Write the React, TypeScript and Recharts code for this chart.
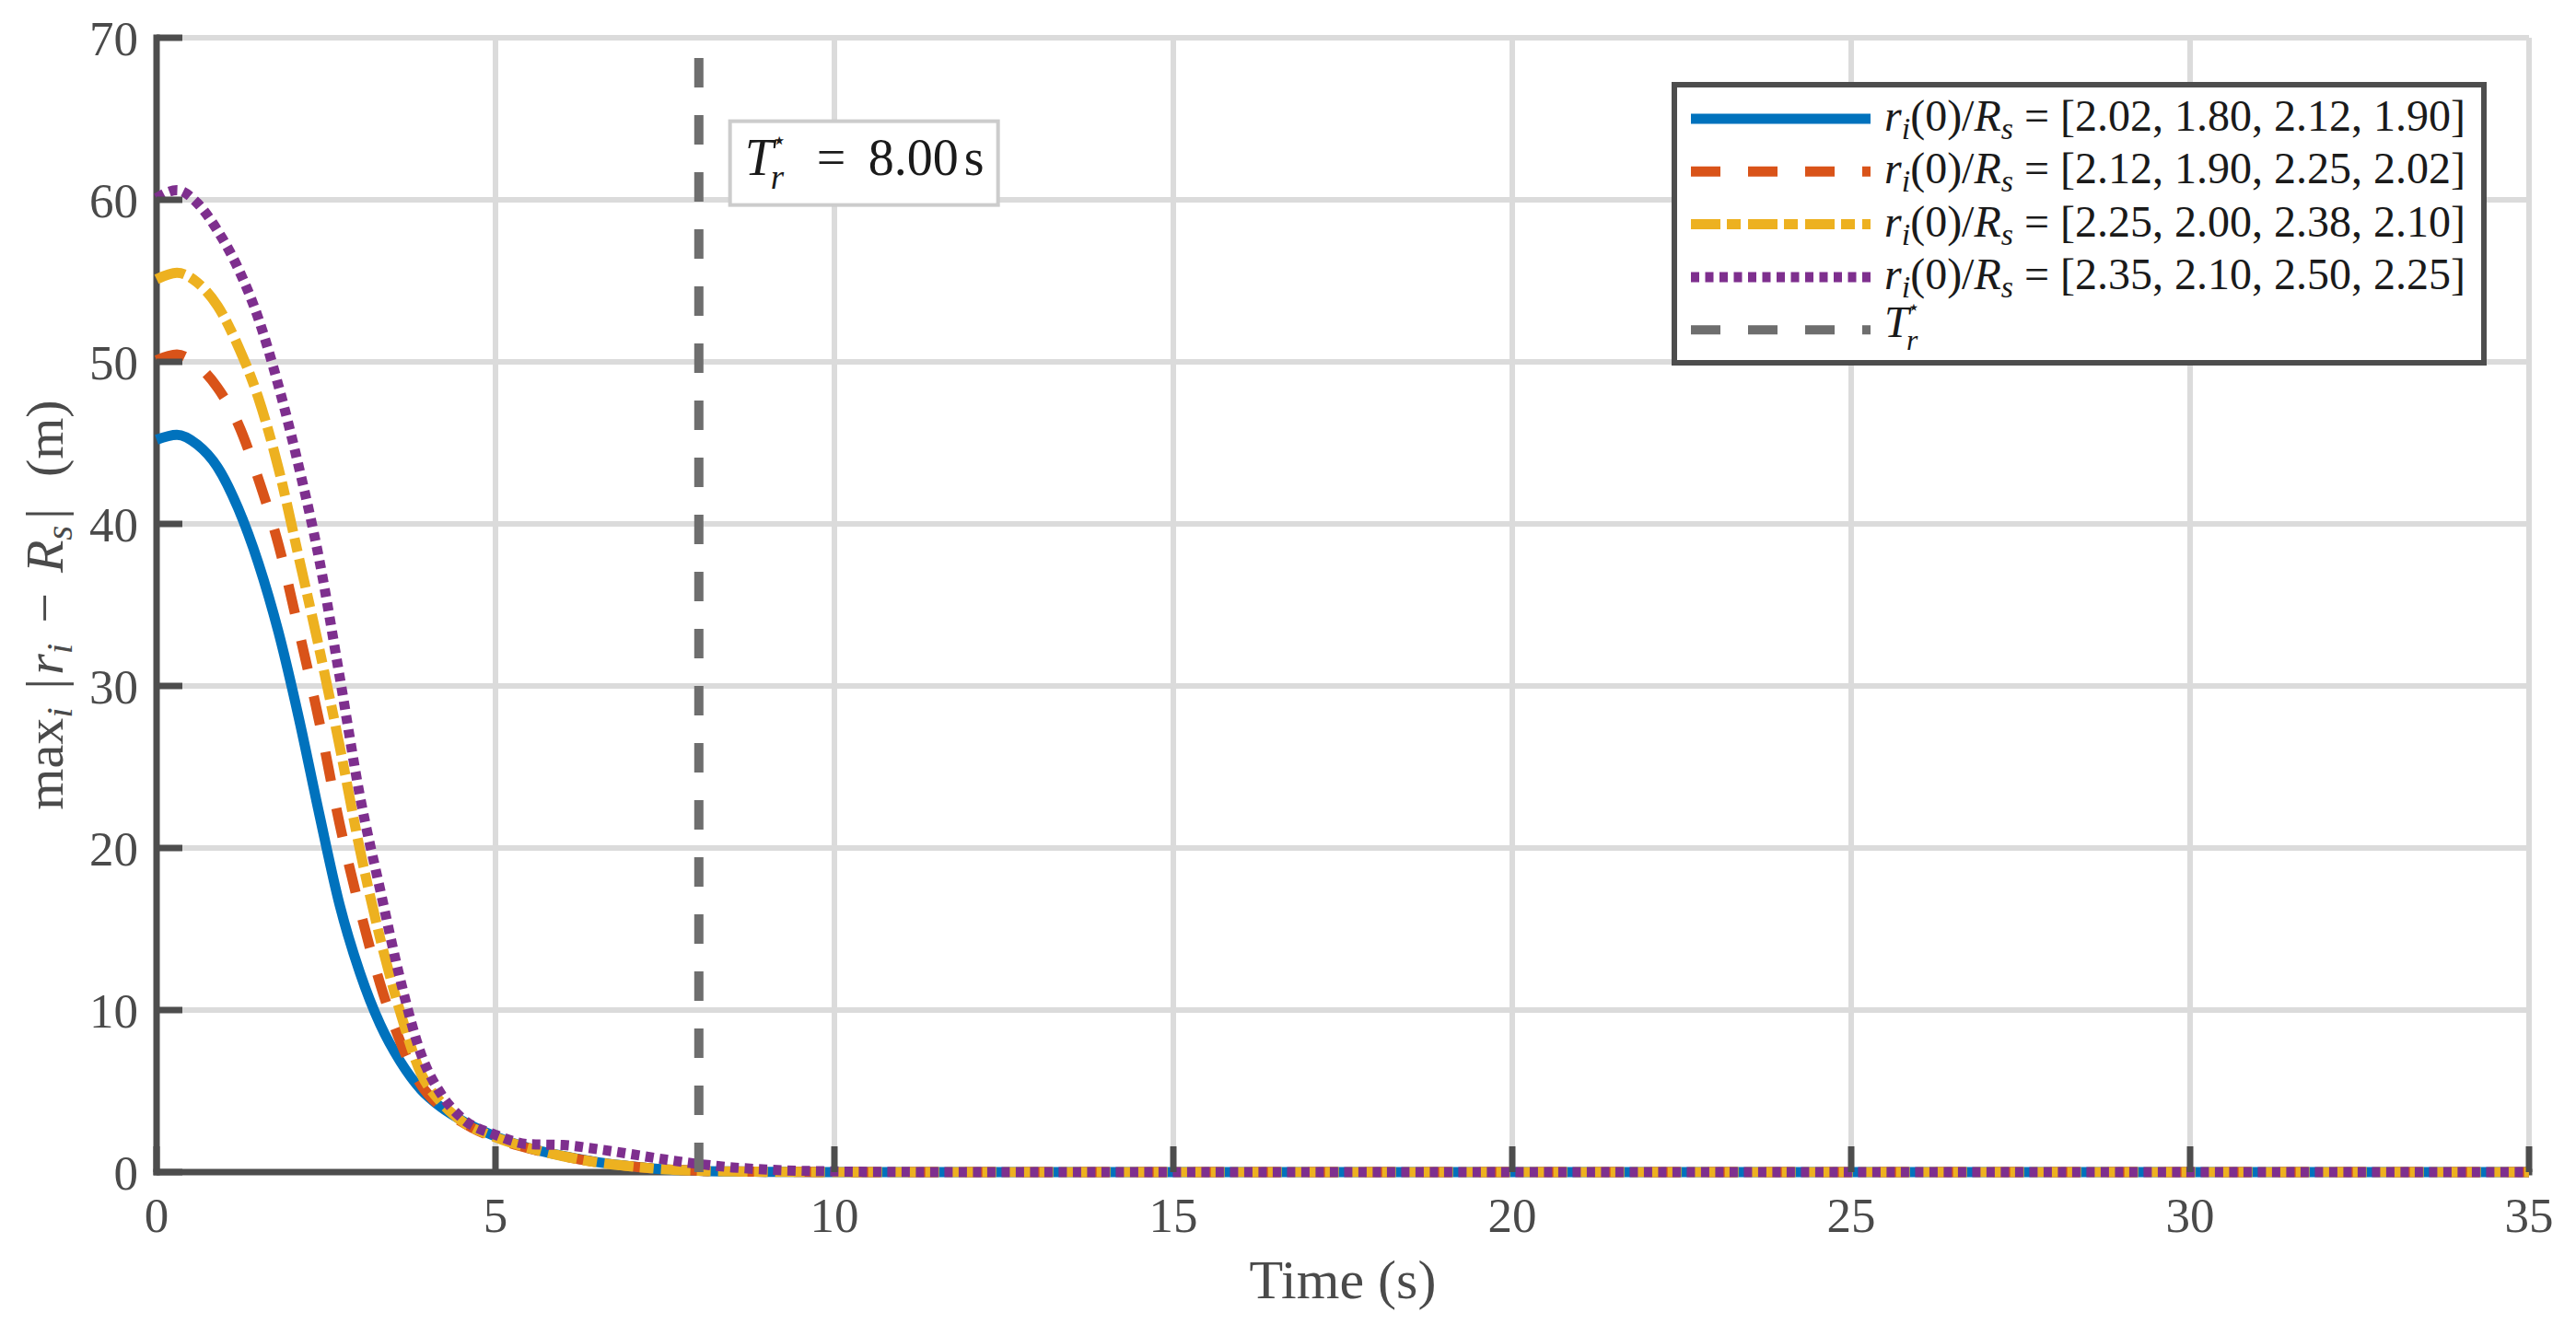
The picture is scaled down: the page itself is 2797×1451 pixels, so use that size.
import React from 'react';
import { LineChart, Line, XAxis, YAxis, CartesianGrid, Legend, ReferenceDot } from 'recharts';

// time samples (s) and the four max-error curves
const TIME = [0, 0.3, 0.6, 0.9, 1.2, 1.5, 1.8, 2.1, 2.4, 2.7, 3.0, 3.3, 3.6, 3.9, 4.2, 4.5, 5.0, 5.5, 6.0, 6.5, 7.0, 7.5, 8.0, 8.5, 9.0, 9.5, 10, 11, 12, 15, 20, 25, 30, 35];
const CASE_1 = [45.2, 45.5, 44.9, 43.5, 41.0, 37.6, 33.3, 28.0, 22.1, 16.5, 12.3, 9.1, 6.8, 5.1, 4.0, 3.2, 2.2, 1.48, 1.0, 0.62, 0.36, 0.17, 0.08, 0.04, 0.02, 0.01, 0, 0, 0, 0, 0, 0, 0, 0];
const CASE_2 = [50.1, 50.45, 49.8, 48.4, 46.2, 42.8, 38.7, 33.4, 27.8, 21.5, 16.2, 11.6, 8.0, 5.4, 4.0, 3.1, 2.1, 1.45, 0.98, 0.6, 0.35, 0.17, 0.08, 0.04, 0.02, 0.01, 0, 0, 0, 0, 0, 0, 0, 0];
const CASE_3 = [55.1, 55.5, 54.9, 53.45, 51.0, 47.8, 43.4, 37.9, 32.3, 26.3, 19.9, 14.4, 9.8, 6.1, 4.3, 3.15, 2.15, 1.48, 0.98, 0.6, 0.35, 0.17, 0.08, 0.04, 0.02, 0.01, 0, 0, 0, 0, 0, 0, 0, 0];
const CASE_4 = [60.1, 60.6, 59.8, 58.1, 55.8, 52.7, 48.5, 43.5, 37.8, 30.6, 23.2, 17.4, 11.8, 7.3, 4.8, 3.35, 2.3, 1.72, 1.67, 1.42, 1.11, 0.78, 0.5, 0.29, 0.16, 0.08, 0.04, 0.01, 0, 0, 0, 0, 0, 0];

const CASE_LABELS = [
  '2.02, 1.80, 2.12, 1.90',
  '2.12, 1.90, 2.25, 2.02',
  '2.25, 2.00, 2.38, 2.10',
  '2.35, 2.10, 2.50, 2.25',
];

const T_STAR = 8;
const X_TICKS = [0, 5, 10, 15, 20, 25, 30, 35];
const Y_TICKS = [0, 10, 20, 30, 40, 50, 60, 70];

const data = TIME.map((t, i) => ({ t, s1: CASE_1[i], s2: CASE_2[i], s3: CASE_3[i], s4: CASE_4[i] }));
const tStarData = [{ t: T_STAR, tr: 0 }, { t: T_STAR, tr: 70 }];

const SERIF = "'Liberation Serif', 'Times New Roman', serif";
const AXIS = '#4d4d4d';
const GRID = '#dbdbdb';
const TEXT = '#4a4a4a';
const INK = '#1a1a1a';

const STYLES: Record<string, { color: string; dash?: string; width: number }> = {
  s1: { color: '#0072BD', width: 11 },
  s2: { color: '#D95319', dash: '32 30', width: 11 },
  s3: { color: '#EDB120', dash: '32 7 15 8', width: 11 },
  s4: { color: '#7E2F8E', dash: '9 6.5', width: 11 },
  tr: { color: '#6e6e6e', dash: '32 30', width: 10 },
};

const BottomTick = ({ x, y, payload }: any) => (
  <g>
    <line x1={x} x2={x} y1={y} y2={y - 28} stroke={AXIS} strokeWidth={7} />
    <text x={x} y={y + 65} textAnchor="middle" fontSize={53} fontFamily={SERIF} fill={TEXT}>
      {payload.value}
    </text>
  </g>
);

const TopTick = ({ x, y }: any) => <line x1={x} x2={x} y1={y} y2={y + 28} stroke={AXIS} strokeWidth={7} />;

const LeftTick = ({ x, y, payload }: any) => (
  <g>
    <line x1={x} x2={x + 28} y1={y} y2={y} stroke={AXIS} strokeWidth={7} />
    <text x={x - 20} y={y} dy="0.35em" textAnchor="end" fontSize={53} fontFamily={SERIF} fill={TEXT}>
      {payload.value}
    </text>
  </g>
);

const RightTick = ({ x, y }: any) => <line x1={x} x2={x - 28} y1={y} y2={y} stroke={AXIS} strokeWidth={7} />;

const XLabel = ({ viewBox }: any) => (
  <text x={viewBox.x + viewBox.width / 2} y={viewBox.y + 137} textAnchor="middle" fontSize={60} fontFamily={SERIF} fill={TEXT}>
    Time (s)
  </text>
);

const YLabel = ({ viewBox }: any) => {
  const cx = viewBox.x + 68;
  const cy = viewBox.y + viewBox.height / 2;
  return (
    <text x={cx} y={cy} transform={`rotate(-90 ${cx} ${cy})`} textAnchor="middle" fontSize={58} fontFamily={SERIF} fill={TEXT}>
      <tspan>max</tspan>
      <tspan fontStyle="italic" fontSize={41} dy={10}>i</tspan>
      <tspan dy={-10} dx={20}>|</tspan>
      <tspan fontStyle="italic" dx={4}>r</tspan>
      <tspan fontStyle="italic" fontSize={41} dy={10}>i</tspan>
      <tspan dy={-10} dx={22}>{'\u2212'}</tspan>
      <tspan fontStyle="italic" dx={22}>R</tspan>
      <tspan fontStyle="italic" fontSize={41} dy={10}>s</tspan>
      <tspan dy={-10} dx={7}>|</tspan>
      <tspan dx={34}>(m)</tspan>
    </text>
  );
};

const CaseText = ({ x, y, vals }: any) => (
  <text x={x} y={y} fontSize={48} fontFamily={SERIF} fill={INK}>
    <tspan fontStyle="italic">r</tspan>
    <tspan fontStyle="italic" fontSize={34} dy={9}>i</tspan>
    <tspan dy={-9}>(0)/</tspan>
    <tspan fontStyle="italic">R</tspan>
    <tspan fontStyle="italic" fontSize={34} dy={9}>s</tspan>
    <tspan dy={-9}>{` = [${vals}]`}</tspan>
  </text>
);

// T with subscript r and a star above it, drawn as three separate texts
const TStarText = ({ x, y, size }: any) => (
  <g fontFamily={SERIF} fill={INK}>
    <text x={x} y={y} fontSize={size} fontStyle="italic">T</text>
    <text x={x + size * 0.5} y={y + size * 0.28} fontSize={size * 0.66} fontStyle="italic">r</text>
    <text x={x + size * 0.52} y={y - size * 0.52} fontSize={size * 0.46}>{'\u22C6'}</text>
  </g>
);

const LegendBox = ({ payload }: any) => {
  const items = (payload || []) as any[];
  return (
    <svg width={885} height={308} style={{ display: 'block' }}>
      <rect x={3} y={3} width={879} height={302} fill="#fff" stroke={AXIS} strokeWidth={6} />
      {items.map((item, i) => {
        const key = String(item.dataKey);
        const st = STYLES[key];
        const y = 40 + i * 57.3;
        const idx = ['s1', 's2', 's3', 's4'].indexOf(key);
        return (
          <g key={key}>
            <line x1={21} x2={216} y1={y} y2={y} stroke={st.color} strokeWidth={st.width} strokeDasharray={st.dash} />
            {idx >= 0 ? <CaseText x={231} y={y + 13} vals={CASE_LABELS[idx]} /> : <TStarText x={231} y={y + 8} size={48} />}
          </g>
        );
      })}
    </svg>
  );
};

const AnnotationBox = ({ cx, cy }: any) => (
  <g>
    <rect x={cx} y={cy} width={291} height={91} fill="#fff" stroke="#cccccc" strokeWidth={4} />
    <TStarText x={cx + 16} y={cy + 58} size={56} />
    <text x={cx + 94} y={cy + 58} fontSize={56} fontFamily={SERIF} fill={INK}>=</text>
    <text x={cx + 150} y={cy + 58} fontSize={56} fontFamily={SERIF} fill={INK}>8.00</text>
    <text x={cx + 254} y={cy + 58} fontSize={56} fontFamily={SERIF} fill={INK}>s</text>
  </g>
);

export default function App() {
  return (
    <div style={{ position: 'absolute', left: 0, top: 0, width: 2797, height: 1451, background: '#fff' }}>
      <LineChart width={2797} height={1451} data={data} margin={{ top: 41, right: 51, bottom: 0, left: 0 }}>
        <CartesianGrid stroke={GRID} strokeWidth={6} />
        <XAxis
          dataKey="t"
          type="number"
          domain={[0, 35]}
          ticks={X_TICKS}
          height={178}
          tickSize={0}
          tickMargin={0}
          tickLine={false}
          tick={<BottomTick />}
          axisLine={{ stroke: AXIS, strokeWidth: 7, strokeLinecap: 'square' }}
          label={{ content: <XLabel /> }}
        />
        <XAxis
          xAxisId="top"
          orientation="top"
          dataKey="t"
          type="number"
          domain={[0, 35]}
          ticks={X_TICKS}
          height={0}
          tickSize={0}
          tickMargin={0}
          tickLine={false}
          tick={<TopTick />}
          axisLine={{ stroke: AXIS, strokeWidth: 7, strokeLinecap: 'square' }}
          allowDataOverflow
        />
        <YAxis
          type="number"
          domain={[0, 70]}
          ticks={Y_TICKS}
          width={170}
          tickSize={0}
          tickMargin={0}
          tickLine={false}
          tick={<LeftTick />}
          axisLine={{ stroke: AXIS, strokeWidth: 7, strokeLinecap: 'square' }}
          label={{ content: <YLabel /> }}
        />
        <YAxis
          yAxisId="right"
          orientation="right"
          type="number"
          domain={[0, 70]}
          ticks={Y_TICKS}
          width={0}
          tickSize={0}
          tickMargin={0}
          tickLine={false}
          tick={<RightTick />}
          axisLine={{ stroke: AXIS, strokeWidth: 7, strokeLinecap: 'square' }}
          allowDataOverflow
        />
        {['s1', 's2', 's3', 's4'].map((k) => (
          <Line
            key={k}
            dataKey={k}
            type="monotone"
            stroke={STYLES[k].color}
            strokeWidth={STYLES[k].width}
            strokeDasharray={STYLES[k].dash}
            strokeLinejoin="round"
            dot={false}
            activeDot={false}
            isAnimationActive={false}
            zIndex={600}
          />
        ))}
        <Line
          data={tStarData}
          dataKey="tr"
          type="linear"
          stroke={STYLES.tr.color}
          strokeWidth={STYLES.tr.width}
          strokeDasharray={STYLES.tr.dash}
          dot={false}
          activeDot={false}
          isAnimationActive={false}
          zIndex={600}
        />
        <ReferenceDot x={8.46} y={64.85} r={0} shape={<AnnotationBox />} ifOverflow="visible" zIndex={700} />
        <Legend
          layout="vertical"
          align="center"
          verticalAlign="middle"
          content={<LegendBox />}
          wrapperStyle={{ left: 1815, top: 89, width: 885, height: 308 }}
        />
      </LineChart>
    </div>
  );
}
